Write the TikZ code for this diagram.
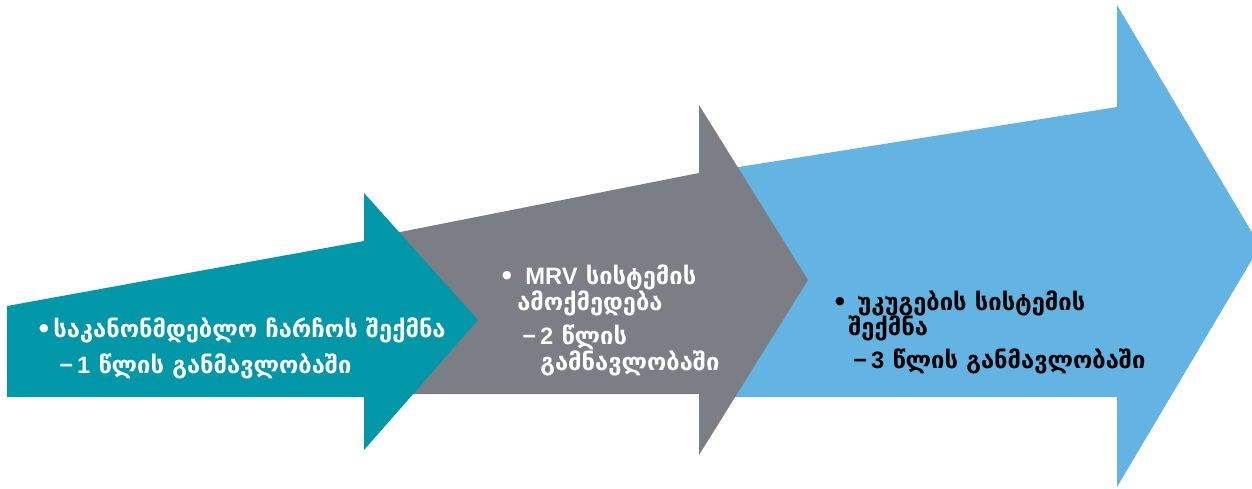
\documentclass[tikz,border=0pt]{standalone}
\usepackage{fontspec}
\setmainfont{DejaVu Sans}
\newfontfamily\latinfont{Liberation Sans}
\definecolor{stepteal}{RGB}{0,152,168}
\definecolor{stepgray}{RGB}{124,126,134}
\definecolor{stepblue}{RGB}{99,179,227}

\begin{document}
\begin{tikzpicture}[x=0.02cm, y=-0.02cm,
wline/.style={anchor=base west, inner sep=0pt, text=white, font=\fontsize{13.5}{17}\selectfont\bfseries},
kline/.style={anchor=base west, inner sep=0pt, text=black, font=\fontsize{13.5}{17}\selectfont\bfseries}]
\useasboundingbox (0,0) rectangle (1252,488);
\clip (0,0) rectangle (1252,488);

% three arrows, back to front
\fill[stepblue] (720,170) -- (1117,107) -- (1117,5) -- (1260,246) -- (1117,487) -- (1117,397) -- (720,397) -- cycle;
\fill[stepgray] (380,236) -- (699,173) -- (699,105) -- (808,280) -- (699,455) -- (699,394) -- (380,394) -- cycle;
\fill[stepteal] (7,306) -- (364,241) -- (364,193) -- (478,320) -- (364,450) -- (364,397) -- (7,397) -- cycle;

% (1) teal
\node[wline] (tb) at (36,337) {•};
\node[wline] (t1) at (53,337) {საკანონმდებლო ჩარჩოს შექმნა};
\node[wline] (t2) at (59,373) {{\latinfont\bfseries −\,1} წლის განმავლობაში};

% (2) gray
\node[wline] (gb) at (499,284) {•};
\node[wline] (g1) at (525,284) {{\latinfont\bfseries MRV} სისტემის};
\node[wline] (g2) at (517,310) {ამოქმედება};
\node[wline] (g3) at (522,344) {{\latinfont\bfseries −\,2} წლის};
\node[wline] (g4) at (540,370) {გამნავლობაში};

% (3) blue
\node[kline] (bb) at (832,310) {•};
\node[kline] (b1) at (857,310) {უკუგების სისტემის};
\node[kline] (b2) at (848,335) {შექმნა};
\node[kline] (b3) at (853,368) {{\latinfont\bfseries −\,3} წლის განმავლობაში};
\end{tikzpicture}
\end{document}
